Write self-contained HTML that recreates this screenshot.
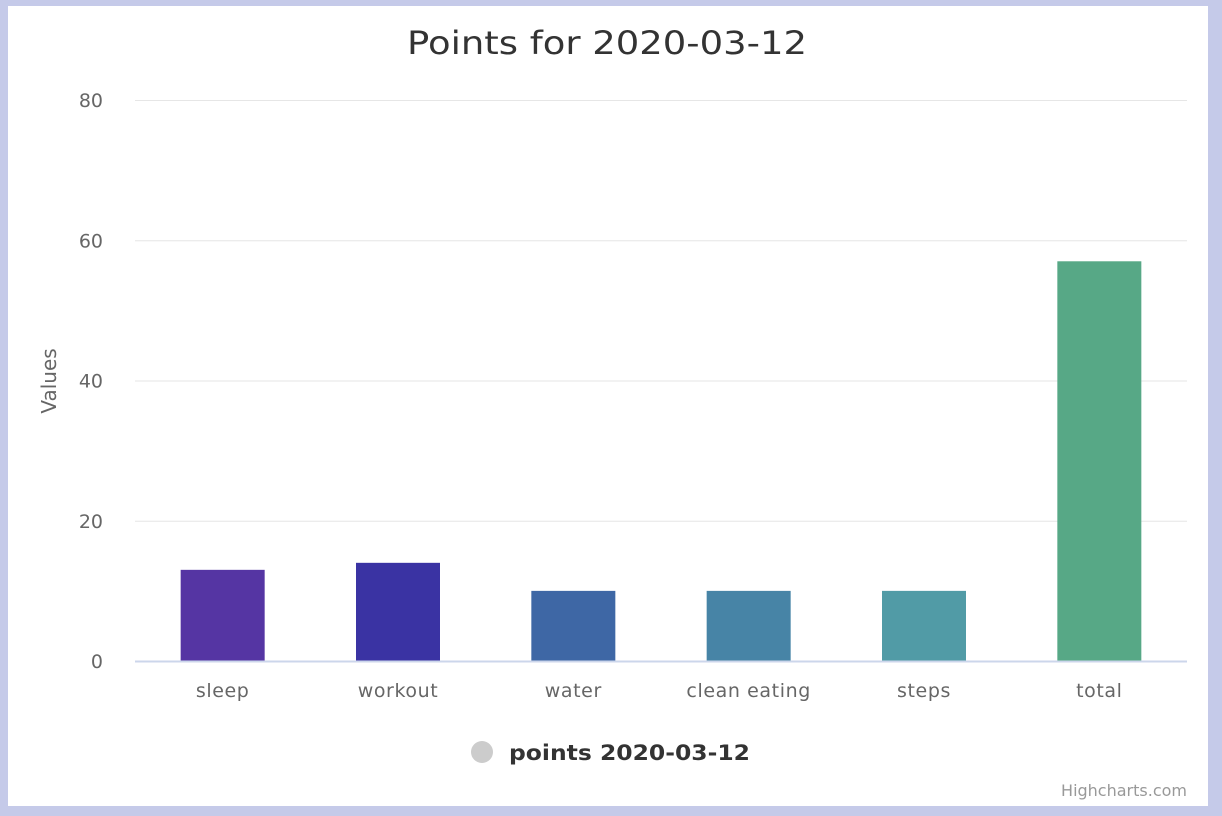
<!DOCTYPE html>
<html><head><meta charset="utf-8"><style>
html,body{margin:0;padding:0;background:#c5cae9;}
svg{display:block;font-family:"DejaVu Sans","Liberation Sans",sans-serif;}
</style></head><body>
<svg id="chart" width="1222" height="816">
<rect x="8" y="6" width="1200" height="800" fill="#fff"/>
<text x="407" y="54" font-size="32" fill="#333" textLength="400" lengthAdjust="spacingAndGlyphs">Points for 2020-03-12</text>
<text transform="translate(56,381) rotate(-90)" text-anchor="middle" font-size="20" fill="#666">Values</text>
<g id="grid"></g><g id="bars"></g><g id="xlabels"></g>
<line x1="135" x2="1187" y1="661.5" y2="661.5" stroke="#ccd6eb" stroke-width="2"/>
<circle cx="482" cy="752" r="11" fill="#ccc"/>
<text x="509" y="760" font-size="21" font-weight="bold" fill="#333" textLength="241" lengthAdjust="spacingAndGlyphs">points 2020-03-12</text>
<text x="1187" y="796" text-anchor="end" font-size="16" fill="#999">Highcharts.com</text>
</svg>
<script>
const categories=["sleep","workout","water","clean eating","steps","total"];
const values=[13,14,10,10,10,57];
const colors=["#5535a3","#3a33a3","#3e67a5","#4784a6","#519ba6","#57a886"];
const yTicks=[0,20,40,60,80];
const ns="http://www.w3.org/2000/svg";
const x0=135,x1=1187,yb=661,yt=100,ymax=80;
const y=v=>yb-(v/ymax)*(yb-yt);
const bw=(x1-x0)/categories.length;
const grid=document.getElementById('grid'),bars=document.getElementById('bars'),xl=document.getElementById('xlabels');
yTicks.forEach(t=>{
 if(t>0){const l=document.createElementNS(ns,'line');
 l.setAttribute('x1',x0);l.setAttribute('x2',x1);l.setAttribute('y1',y(t)+0.5);l.setAttribute('y2',y(t)+0.5);l.setAttribute('stroke','#e6e6e6');
 
 
 grid.appendChild(l);}
 const tx=document.createElementNS(ns,'text');
 tx.setAttribute('x',103);tx.setAttribute('y',y(t)+7);tx.setAttribute('text-anchor','end');tx.setAttribute('font-size','19');tx.setAttribute('fill','#666');
 tx.textContent=t;
 
 
 grid.appendChild(tx);
});
categories.forEach((c,i)=>{
 const cx=x0+bw*(i+0.5);
 const r=document.createElementNS(ns,'rect');
 r.setAttribute('x',cx-42);r.setAttribute('width',84);r.setAttribute('y',y(values[i]));r.setAttribute('height',yb-y(values[i]));r.setAttribute('fill',colors[i]);
 
 
 bars.appendChild(r);
 const t=document.createElementNS(ns,'text');
 t.setAttribute('x',cx);t.setAttribute('y',697);t.setAttribute('text-anchor','middle');t.setAttribute('font-size','19');t.setAttribute('fill','#666');t.setAttribute('letter-spacing','0.6');
 t.textContent=c;
 
 
 xl.appendChild(t);
});
</script>
</body></html>
